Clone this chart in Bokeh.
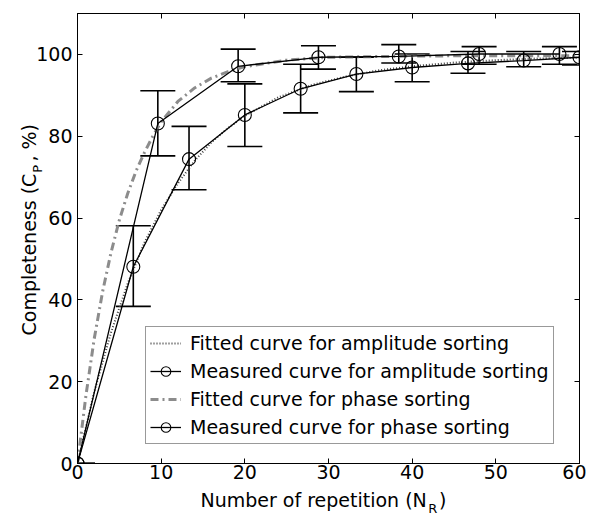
import math
from bokeh.plotting import figure
from bokeh.models import (ColumnDataSource, Whisker, TeeHead, Range1d, FixedTicker,
                          LinearAxis, Legend, LegendItem, Label)
from bokeh.embed import file_html
from bokeh.resources import INLINE

# ---------------- data ----------------
amp_x = [0, 6.67, 13.33, 20, 26.67, 33.33, 40, 46.67, 53.33, 60]
amp_y = [0, 48.1, 74.4, 85.2, 91.6, 95.2, 96.8, 97.8, 98.5, 99.3]
amp_upper = [0, 58.1, 82.4, 92.8, 97.6, 99.3, 100.1, 100.7, 100.7, 100.7]
amp_lower = [0, 38.4, 66.9, 77.5, 85.7, 90.9, 93.3, 95.4, 97.0, 97.4]

ph_x = [0, 9.6, 19.2, 28.8, 38.4, 48, 57.6]
ph_y = [0, 83.1, 97.1, 99.3, 99.5, 100.1, 100.1]
ph_upper = [0, 91.1, 101.3, 102.1, 102.4, 101.9, 101.9]
ph_lower = [0, 75.2, 93.3, 96.4, 97.9, 97.6, 97.6]

fit_amp_x = [0, 2, 4, 6, 8, 10, 12, 14, 16, 18, 20, 24, 28, 32, 36, 40, 45, 50, 55, 60]
fit_amp_y = [0, 17.5, 32, 44, 54, 62, 68.5, 74, 78.5, 82, 85, 89.5, 92.5, 94.6, 96.1,
             97.1, 98.0, 98.6, 99.0, 99.2]

fit_ph_x = [0, 1, 2, 3, 4, 5, 6, 7, 8, 9, 10, 12, 14, 16, 18, 20, 25, 30, 40, 50, 60]
fit_ph_y = [0, 16.5, 30.5, 42, 51.5, 59.5, 66, 71.5, 76, 80, 83.5, 88.5, 91.8, 94.2,
            95.8, 97, 98.6, 99.3, 99.6, 99.7, 99.7]

x_ticks = [0, 10, 20, 30, 40, 50, 60]
y_ticks = [0, 20, 40, 60, 80, 100]

legend_labels = ["Fitted curve for amplitude sorting",
                 "Measured curve for amplitude sorting",
                 "Fitted curve for phase sorting",
                 "Measured curve for phase sorting"]

x_title = "Number of repetition (N\u00a0\u00a0)"
x_title_sub = "R"
y_title = "Completeness (C\u00a0\u00a0, %)"
y_title_sub = "P"

FONT = "DejaVu Sans"
FS = "19px"

p = figure(frame_width=502, frame_height=450,
           min_border_left=77, min_border_right=7,
           min_border_top=13, min_border_bottom=53,
           x_range=Range1d(0, 60), y_range=Range1d(0, 110),
           output_backend="svg", toolbar_location=None,
           background_fill_color="white", border_fill_color="white")

p.xgrid.visible = False
p.ygrid.visible = False
p.outline_line_color = "black"
p.outline_line_width = 1

def style_axis(ax, ticks, show_labels=True):
    ax.ticker = FixedTicker(ticks=ticks)
    ax.major_tick_in = 5
    ax.major_tick_out = 0
    ax.minor_tick_line_color = None
    ax.axis_line_color = "black"
    ax.major_tick_line_color = "black"
    ax.major_label_text_font = FONT
    ax.major_label_text_color = "black"
    if show_labels:
        ax.major_label_text_font_size = FS
    else:
        ax.major_label_text_font_size = "0px"
        ax.major_label_standoff = 0

style_axis(p.xaxis[0], x_ticks)
p.xaxis[0].major_label_standoff = 1
style_axis(p.yaxis[0], y_ticks)
p.yaxis[0].major_label_standoff = 5

top_ax = LinearAxis()
style_axis(top_ax, x_ticks, show_labels=False)
p.add_layout(top_ax, "above")
right_ax = LinearAxis()
style_axis(right_ax, y_ticks, show_labels=False)
p.add_layout(right_ax, "right")

# fitted curves
r_fit_amp = p.line(fit_amp_x, fit_amp_y, line_color="#404040", line_width=2,
                   line_dash="1 2")
r_fit_ph = p.line(fit_ph_x, fit_ph_y, line_color="#8c8c8c", line_width=3,
                  line_dash="8 4 2 4")

# measured curves
amp_src = ColumnDataSource(dict(x=amp_x, y=amp_y, upper=amp_upper, lower=amp_lower))
ph_src = ColumnDataSource(dict(x=ph_x, y=ph_y, upper=ph_upper, lower=ph_lower))

r_amp_line = p.line("x", "y", source=amp_src, line_color="black", line_width=1.3)
r_amp_pts = p.scatter("x", "y", source=amp_src, marker="circle", size=13,
                      fill_color=None, line_color="black", line_width=1.1)
r_ph_line = p.line("x", "y", source=ph_src, line_color="black", line_width=1.3)
r_ph_pts = p.scatter("x", "y", source=ph_src, marker="circle", size=13,
                     fill_color=None, line_color="black", line_width=1.1)

for src in (amp_src, ph_src):
    w = Whisker(base="x", upper="upper", lower="lower", source=src,
                line_color="black", line_width=1.6,
                upper_head=TeeHead(size=35, line_color="black", line_width=1.6),
                lower_head=TeeHead(size=35, line_color="black", line_width=1.6))
    p.add_layout(w)

legend = Legend(items=[
    LegendItem(label=legend_labels[0], renderers=[r_fit_amp]),
    LegendItem(label=legend_labels[1], renderers=[r_amp_line, r_amp_pts]),
    LegendItem(label=legend_labels[2], renderers=[r_fit_ph]),
    LegendItem(label=legend_labels[3], renderers=[r_ph_line, r_ph_pts]),
], location=(68, 19))
legend.label_text_font = FONT
legend.label_text_font_size = FS
legend.label_text_color = "black"
legend.padding = 4
legend.spacing = 4
legend.margin = 0
legend.glyph_width = 31
legend.glyph_height = 24
legend.label_height = 24
legend.label_standoff = 9
legend.border_line_color = "#333333"
legend.border_line_width = 1
legend.background_fill_color = "white"
legend.background_fill_alpha = 1
p.add_layout(legend, "center")

# axis titles with subscripts (in side panels so they are not clipped)
lab_kw = dict(text_font=FONT, text_color="black", text_baseline="middle",
              text_align="left")
p.add_layout(Label(x=14.7, y=-8.9, text=x_title, text_font_size=FS, **lab_kw), "below")
p.add_layout(Label(x=41.93, y=-11.0, text=x_title_sub, text_font_size="13px", **lab_kw),
             "left")
p.add_layout(Label(x=-5.81, y=31.3, text=y_title, angle=math.pi / 2,
                   text_font_size=FS, **lab_kw), "left")
p.add_layout(Label(x=-4.84, y=71.1, text=y_title_sub, angle=math.pi / 2,
                   text_font_size="13px", **lab_kw), "above")

open("out.html", "w").write(file_html(p, INLINE))
